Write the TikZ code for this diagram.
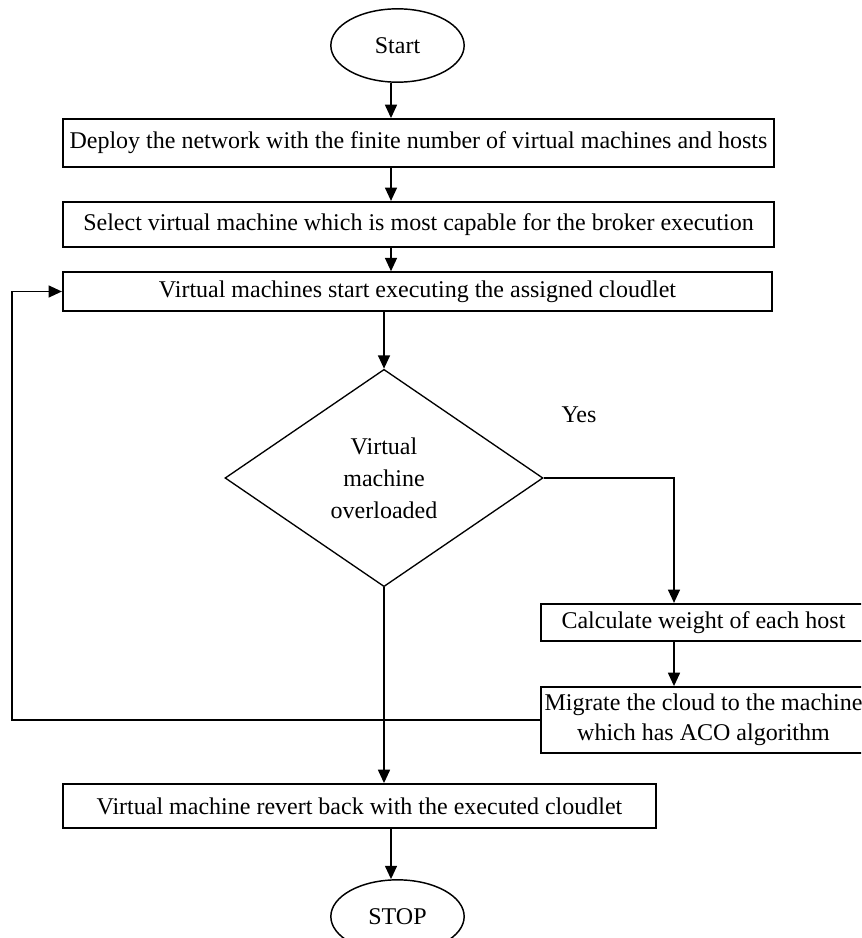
\documentclass[tikz,border=0pt]{standalone}
\usepackage{fontspec}
\setmainfont{Liberation Serif}
\usetikzlibrary{shapes.geometric,arrows.meta}

\begin{document}
\begin{tikzpicture}[x=0.75pt,y=-0.75pt,
    font=\fontsize{18}{22}\selectfont,
    box/.style={draw,line width=1.4pt,rectangle,inner xsep=1pt,inner ysep=0pt},
    term/.style={draw,line width=1.1pt,ellipse,minimum width=100pt,minimum height=55pt},
    arr/.style={line width=1.1pt,-{Triangle[length=10pt,width=9pt]}}]
    \clip (0,0) rectangle (861,938);

    \node[term] (start) at (397.5,45.5) {Start};
    \node[box,minimum width=533pt,minimum height=36pt] (deploy) at (418.5,143)
        {Deploy the network with the finite number of virtual machines and hosts};
    \node[box,minimum width=533pt,minimum height=34pt] (select) at (418.5,224.5)
        {Select virtual machine which is most capable for the broker execution};
    \node[box,minimum width=532pt,minimum height=29pt] (run) at (417.5,291.5)
        {Virtual machines start executing the assigned cloudlet};
    \node[draw,diamond,line width=1pt,minimum width=238.5pt,minimum height=163pt,
        inner sep=0pt,align=center,font=\fontsize{18}{24}\selectfont] (check) at (384,478)
        {Virtual\\machine\\overloaded};
    \node (yes) at (579,415) {Yes};
    \node[box,minimum width=244pt,minimum height=28pt] (calc) at (703.5,622.5)
        {Calculate weight of each host};
    \node[box,minimum width=244pt,minimum height=49.5pt,align=center,
        font=\fontsize{18}{22.5}\selectfont] (migrate) at (703.5,720)
        {Migrate the cloud to the machine\\which has ACO algorithm};
    \node[box,minimum width=445pt,minimum height=33pt] (revert) at (359.5,806)
        {Virtual machine revert back with the executed cloudlet};
    \node[term] (stop) at (397.5,916.5) {STOP};

    \coordinate (spine) at (391,0);
    \coordinate (rcol) at (674,0);
    \coordinate (loop) at (12,0);

    \draw[arr] (spine |- start.south) -- (spine |- deploy.north);
    \draw[arr] (spine |- deploy.south) -- (spine |- select.north);
    \draw[arr] (spine |- select.south) -- (spine |- run.north);
    \draw[arr] (check.north |- run.south) -- (check.north);
    \draw[arr] (check.east) -| (rcol |- calc.north);
    \draw[arr] (rcol |- calc.south) -- (rcol |- migrate.north);
    \draw[arr] (migrate.west) -| (loop |- run.west) -- (run.west);
    \draw[arr] (check.south) -- (check.south |- revert.north);
    \draw[arr] (spine |- revert.south) -- (spine |- stop.north);
\end{tikzpicture}
\end{document}
